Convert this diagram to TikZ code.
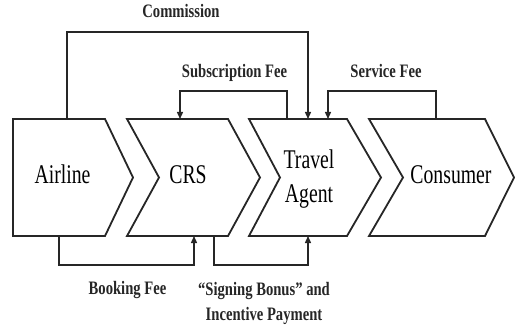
\documentclass[tikz,border=0pt]{standalone}
\usepackage{fontspec}
\setmainfont{Liberation Serif}
\newfontfamily\boxfont{Liberation Serif}[FakeStretch=0.73]
\newfontfamily\labelfont{Liberation Serif}[FakeStretch=0.77]
\usetikzlibrary{arrows.meta}
\begin{document}
\begin{tikzpicture}[x=1pt,y=-1pt,
  chevron/.style={draw=black!85, line width=1.8pt, line join=miter, fill=white},
  flow/.style={draw=black!85, line width=1.4pt, -{Triangle[length=7pt,width=6pt]}},
  actor/.style={font=\boxfont\fontsize{27}{34}\selectfont, text=black, inner sep=0pt, align=center},
  money/.style={font=\labelfont\bfseries\fontsize{19}{25}\selectfont, text=black!85, inner sep=0pt, align=center}]

\useasboundingbox (0,0) rectangle (515,329);

% value chain chevrons
\draw[chevron] (13,119) -- (105,119) -- (133,177.5) -- (105,236) -- (13,236) -- cycle;
\draw[chevron] (127,119) -- (228,119) -- (260,177.5) -- (228,236) -- (127,236) -- (159,177.5) -- cycle;
\draw[chevron] (249,119) -- (347,119) -- (381,177.5) -- (347,236) -- (249,236) -- (280,177.5) -- cycle;
\draw[chevron] (369,119) -- (485,119) -- (514,177.5) -- (485,236) -- (369,236) -- (403,177.5) -- cycle;

% chevron captions (base anchor of a two-line node sits on its last line)
\node[actor, anchor=base] (airline) at (62.5,183) {Airline};
\node[actor, anchor=base] (crs) at (188,183) {CRS};
\node[actor, anchor=base] (agent) at (309,202) {Travel\\Agent};
\node[actor, anchor=base] (consumer) at (451,183) {Consumer};

% attachment points on the chevron edges
\coordinate (al-com) at (67,119);
\coordinate (al-bk)  at (59,236);
\coordinate (crs-sub) at (180,119);
\coordinate (crs-bk)  at (194,236);
\coordinate (crs-sg)  at (214,236);
\coordinate (ta-sub) at (287,119);
\coordinate (ta-com) at (308,119);
\coordinate (ta-svc) at (328,119);
\coordinate (ta-sg)  at (308,236);
\coordinate (co-svc) at (436,119);

% bends of the payment lines
\coordinate (com-bend) at (67,32);
\coordinate (sub-bend) at (287,91);
\coordinate (svc-bend) at (436,91);
\coordinate (bk-bend)  at (59,265);
\coordinate (sg-bend)  at (214,265);

% payment flows
\draw[flow] (al-com) -- (com-bend) -| (ta-com);
\draw[flow] (ta-sub) -- (sub-bend) -| (crs-sub);
\draw[flow] (co-svc) -- (svc-bend) -| (ta-svc);
\draw[flow] (al-bk) -- (bk-bend) -| (crs-bk);
\draw[flow] (crs-sg) -- (sg-bend) -| (ta-sg);

% payment labels
\node[money, anchor=base] (commission) at (181,18) {Commission};
\node[money, anchor=base] (subscription) at (234.5,78) {Subscription Fee};
\node[money, anchor=base] (service) at (386,78) {Service Fee};
\node[money, anchor=base] (booking) at (127.5,294) {Booking Fee};
\node[money, anchor=base] (signing) at (264,320) {“Signing Bonus” and\\Incentive Payment};
\end{tikzpicture}
\end{document}
